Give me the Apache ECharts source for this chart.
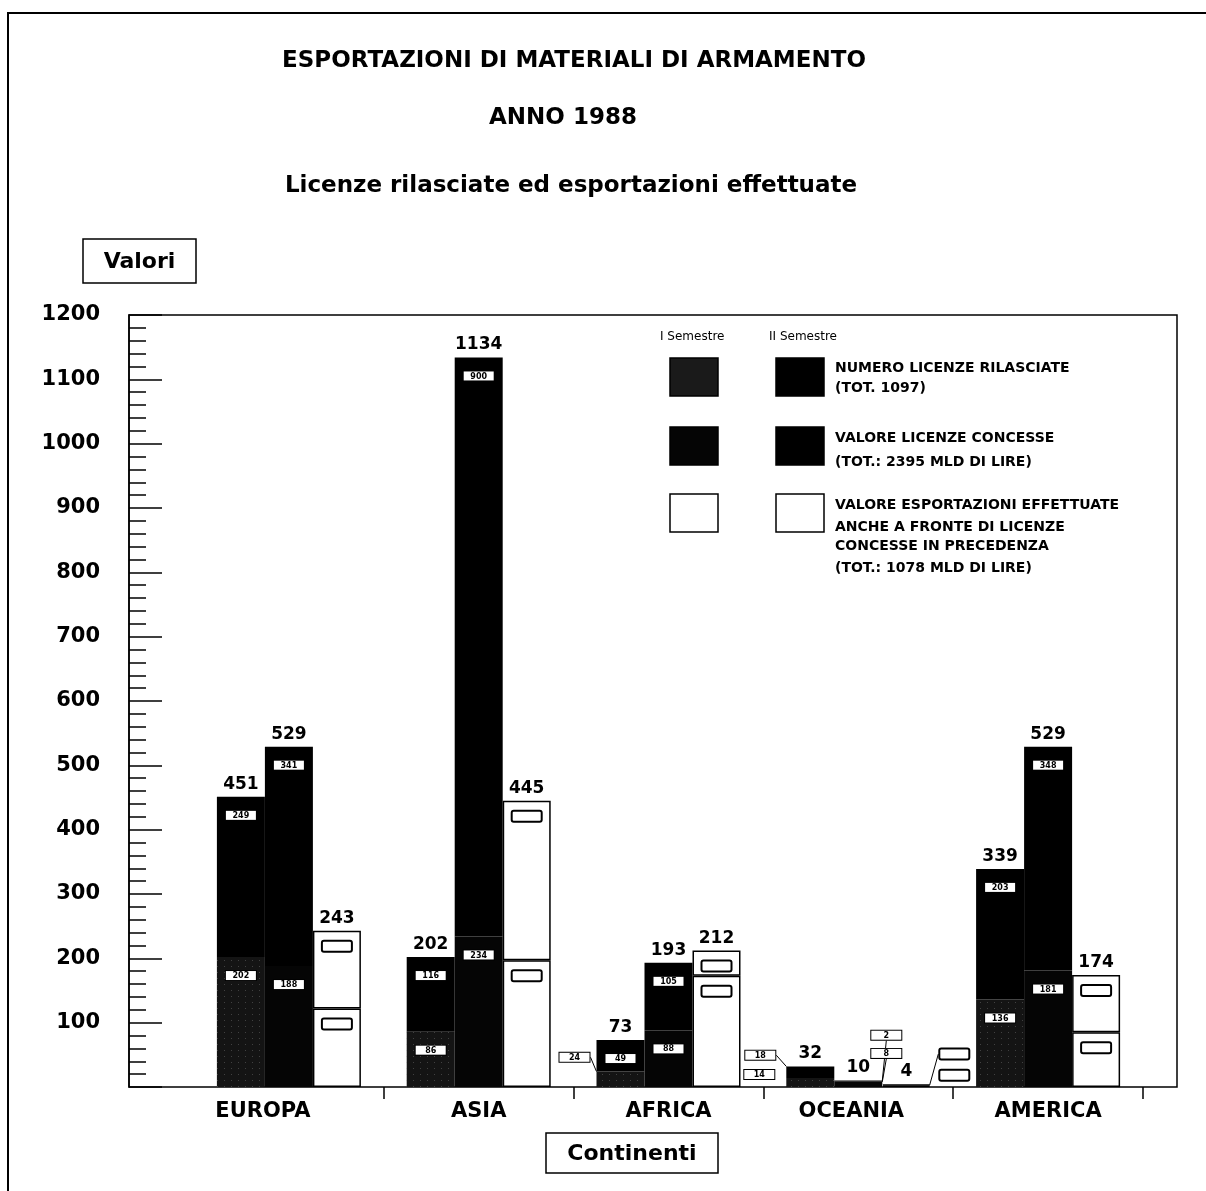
<!DOCTYPE html>
<html><head><meta charset="utf-8">
<script src="https://cdn.jsdelivr.net/npm/echarts@6/dist/echarts.min.js"></script>
<style>html,body{margin:0;padding:0;background:#fff}#c{width:1206px;height:1191px}</style>
</head><body><div id="c"></div>
<script>
// ---------- DATA ----------
const categories = ['EUROPA', 'ASIA', 'AFRICA', 'OCEANIA', 'AMERICA'];
const licenzeSem1 = [202, 86, 24, 14, 136];    // numero licenze rilasciate, I semestre
const licenzeSem2 = [249, 116, 49, 18, 203];   // numero licenze rilasciate, II semestre
const valoreSem1 = [188, 234, 88, 8, 181];     // valore licenze concesse, I semestre
const valoreSem2 = [341, 900, 105, 2, 348];    // valore licenze concesse, II semestre
const esportSem1 = [122, 197, 173, 2, 85];     // valore esportazioni effettuate, I semestre
const esportSem2 = [121, 248, 39, 2, 89];      // valore esportazioni effettuate, II semestre
const titleLines = ['ESPORTAZIONI DI MATERIALI DI ARMAMENTO', 'ANNO 1988', 'Licenze rilasciate ed esportazioni effettuate'];
const semLabels = ['I Semestre', 'II Semestre'];
const legendTexts = [
  ['NUMERO LICENZE RILASCIATE', '(TOT. 1097)'],
  ['VALORE LICENZE CONCESSE', '(TOT.: 2395 MLD DI LIRE)'],
  ['VALORE ESPORTAZIONI EFFETTUATE', 'ANCHE A FRONTE DI LICENZE', 'CONCESSE IN PRECEDENZA', '(TOT.: 1078 MLD DI LIRE)']
];
const yAxisTitle = 'Valori';
const xAxisTitle = 'Continenti';

// ---------- LAYOUT / STYLE ----------
const FONT = 'DejaVu Sans';
const catShift = { EUROPA: -26, OCEANIA: -7 };
// label moves for tiny segments: [dx, dy, leaderLine]
const special = {
  licI: { 2: [-46, -22, true], 3: [-51, -8, false] },
  licII: { 3: [-50, -17, true] },
  valI: { 3: [28, -31, true] },
  valII: { 3: [28, -46, true] },
  expI: { 3: [48, -11, false] },
  expII: { 3: [48, -31, true] }
};

function build(values, key) {
  const sp = special[key] || {};
  return values.map((v, i) => {
    const s = sp[i];
    if (!s) return v;
    return { value: v, label: { position: 'inside' },
      labelLine: { show: s[2], lineStyle: { color: '#000', width: 1 } } };
  });
}
function layoutFor(key) {
  const sp = special[key] || {};
  return p => { const s = sp[p.dataIndex]; return s ? { dx: s[0], dy: s[1] } : {}; };
}
const numRich = { v: { fontFamily: FONT, fontSize: 8, fontWeight: 'bold', color: '#000',
  backgroundColor: '#fff', borderColor: '#000', borderWidth: 1, width: 26, align: 'center',
  padding: [1, 2, 0, 2], lineHeight: 9 } };
const boxRich = { b: { width: 28, height: 9, backgroundColor: '#fff', borderColor: '#000',
  borderWidth: 2, borderRadius: 1 } };

const common = { type: 'bar', xAxisIndex: 1, yAxisIndex: 1, barWidth: 48, barGap: '0%', stackStrategy: 'all' };

function numSeries(name, stack, values, key, itemStyle) {
  return Object.assign({}, common, {
    name, stack, data: build(values, key), itemStyle,
    label: { show: true, position: 'insideTop', distance: 14, formatter: p => '{v|' + p.value + '}', rich: numRich },
    labelLayout: layoutFor(key)
  });
}
function expSeries(name, values, key) {
  return Object.assign({}, common, {
    name, stack: 'esp', data: build(values, key),
    itemStyle: { color: '#fff', borderColor: '#000', borderWidth: 1.5 },
    label: { show: true, position: 'insideTop', distance: 11, formatter: '{b| }', rich: boxRich },
    labelLayout: layoutFor(key)
  });
}
function totalSeries(stack, a, b) {
  return Object.assign({}, common, {
    name: stack + '-tot', stack, data: a.map(() => 0), silent: true,
    itemStyle: { color: 'rgba(0,0,0,0)' },
    label: { show: true, position: 'top', distance: 4, formatter: p => String(a[p.dataIndex] + b[p.dataIndex]),
      fontFamily: FONT, fontWeight: 'bold', fontSize: 17, color: '#000' }
  });
}

const stipple = { symbol: 'rect', symbolSize: 1, color: 'rgba(110,110,110,0.5)',
  dashArrayX: [1, 6], dashArrayY: [1, 5], rotation: 0 };

const series = [
  numSeries('Numero licenze I sem.', 'lic', licenzeSem1, 'licI', { color: '#141414', decal: stipple }),
  numSeries('Numero licenze II sem.', 'lic', licenzeSem2, 'licII', { color: '#000' }),
  totalSeries('lic', licenzeSem1, licenzeSem2),
  numSeries('Valore licenze I sem.', 'val', valoreSem1, 'valI', { color: '#050505' }),
  numSeries('Valore licenze II sem.', 'val', valoreSem2, 'valII', { color: '#000' }),
  totalSeries('val', valoreSem1, valoreSem2),
  expSeries('Esportazioni I sem.', esportSem1, 'expI'),
  expSeries('Esportazioni II sem.', esportSem2, 'expII'),
  totalSeries('esp', esportSem1, esportSem2)
];

// ---------- GRAPHIC (frame, boxes, legend) ----------
const graphic = [];
graphic.push({ type: 'polyline', shape: { points: [[8, 1191], [8, 13], [1206, 13]] }, style: { stroke: '#000', lineWidth: 2, fill: null } });
function boxedText(x, y, w, h, txt) {
  graphic.push({ type: 'rect', shape: { x, y, width: w, height: h }, style: { fill: '#fff', stroke: '#000', lineWidth: 1.5 } });
  graphic.push({ type: 'text', x: x + w / 2, y: y + h / 2 + 1, style: { text: txt, fontFamily: FONT, fontWeight: 'bold', fontSize: 22, fill: '#000', align: 'center', verticalAlign: 'middle' } });
}
boxedText(83, 239, 113, 44, yAxisTitle);
boxedText(546, 1133, 172, 40, xAxisTitle);

graphic.push({ type: 'text', x: 660, y: 337, style: { text: semLabels[0], fontFamily: FONT, fontSize: 12, fill: '#000', verticalAlign: 'middle' } });
graphic.push({ type: 'text', x: 769, y: 337, style: { text: semLabels[1], fontFamily: FONT, fontSize: 12, fill: '#000', verticalAlign: 'middle' } });
const legRows = [358, 427, 494];
const legFill = [['#1a1a1a', '#000'], ['#050505', '#000'], ['#fff', '#fff']];
legRows.forEach((ry, r) => {
  [670, 776].forEach((rx, c) => {
    graphic.push({ type: 'rect', shape: { x: rx, y: ry, width: 48, height: 38 },
      style: { fill: legFill[r][c], stroke: '#000', lineWidth: 1.5 } });
  });
});
const legTextY = [[368, 388], [438, 462], [505, 527, 546, 568]];
legendTexts.forEach((lines, r) => {
  lines.forEach((t, k) => {
    graphic.push({ type: 'text', x: 835, y: legTextY[r][k], style: { text: t, fontFamily: FONT, fontWeight: 'bold', fontSize: 14, fill: '#000', verticalAlign: 'middle' } });
  });
});

// ---------- OPTION ----------
const titleStyle = { fontFamily: FONT, fontWeight: 'bold', fontSize: 23, color: '#000' };
const option = {
  animation: false,
  backgroundColor: '#fff',
  title: [
    { text: titleLines[0], left: 569, top: 45, textAlign: 'center', textStyle: titleStyle },
    { text: titleLines[1], left: 558, top: 102, textAlign: 'center', textStyle: titleStyle },
    { text: titleLines[2], left: 566, top: 170, textAlign: 'center', textStyle: titleStyle }
  ],
  grid: [
    { left: 129, right: 29, top: 315, bottom: 104, show: true, borderColor: '#000', borderWidth: 1.5, backgroundColor: 'transparent', containLabel: false },
    { left: 194, right: 63, top: 315, bottom: 104, containLabel: false }
  ],
  xAxis: [
    { gridIndex: 0, type: 'value', min: 0, max: 1, show: false },
    { gridIndex: 1, type: 'category',
      data: categories.map(c => catShift[c] ? { value: c, textStyle: { padding: catShift[c] < 0 ? [0, -2 * catShift[c], 0, 0] : [0, 0, 0, 2 * catShift[c]] } } : c),
      axisLine: { show: false },
      axisTick: { show: true, inside: false, length: 12, lineStyle: { color: '#000', width: 1.5 }, interval: (i) => i !== 0 },
      axisLabel: { margin: 14, fontFamily: FONT, fontWeight: 'bold', fontSize: 21, color: '#000' },
      splitLine: { show: false } }
  ],
  yAxis: [
    { gridIndex: 0, type: 'value', min: 0, max: 1200, interval: 100,
      axisLine: { show: true, lineStyle: { color: '#000', width: 1.5 } },
      axisTick: { show: true, inside: true, length: 33, lineStyle: { color: '#000', width: 1.5 } },
      minorTick: { show: true, splitNumber: 5, length: 17, lineStyle: { color: '#000', width: 1.5 } },
      axisLabel: { margin: 29, fontFamily: FONT, fontWeight: 'bold', fontSize: 21, color: '#000', formatter: v => (v === 0 ? '' : String(v)) },
      splitLine: { show: false } },
    { gridIndex: 1, type: 'value', min: 0, max: 1200, show: false, splitLine: { show: false } }
  ],
  series,
  graphic
};
const chart = echarts.init(document.getElementById('c'));
chart.setOption(option);
</script>
</body></html>
